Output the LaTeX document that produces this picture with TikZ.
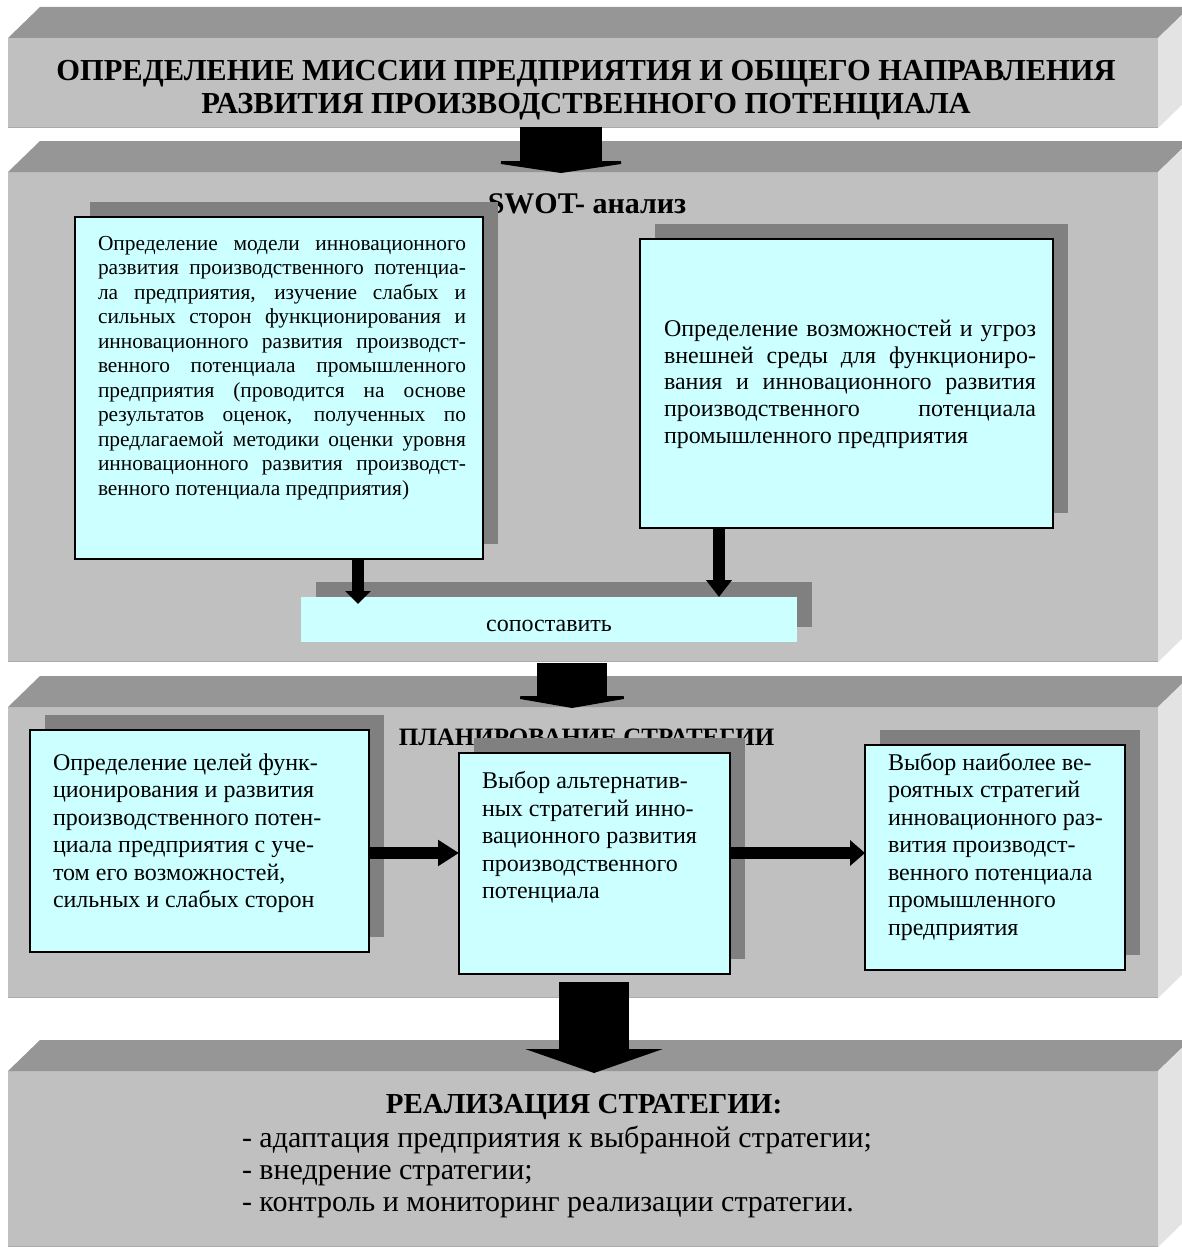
\documentclass[tikz,border=0pt]{standalone}
\usepackage{fontspec}
\setmainfont{Liberation Serif}
\usetikzlibrary{arrows.meta}
\definecolor{slabfront}{HTML}{C0C0C0}
\definecolor{slabtop}{HTML}{969696}
\definecolor{slabside}{HTML}{E3E3E3}
\definecolor{slabedge}{HTML}{ABABAB}
\definecolor{shadegray}{HTML}{808080}
\definecolor{boxcyan}{HTML}{CCFFFF}
\pgfdeclarelayer{slablayer}
\pgfdeclarelayer{shadelayer}
\pgfsetlayers{slablayer,shadelayer,main}
\newcommand\fs[2]{\fontsize{#1pt}{#2pt}\selectfont}
\newcommand\jl[1]{\hbox to\hsize{#1}}
\newcommand\rl[1]{\hbox{#1}}
\newcommand\textlines[2]{\vbox{\hsize=#1pt\hbox{}#2}}
\newcommand\slabfaces[1]{%
  \fill[slabtop] (#1.north west) -- ++(32,-31) -- ([shift={(32,-31)}]#1.north east) -- (#1.north east) -- cycle;
  \fill[slabside] (#1.north east) -- ++(32,-31) -- ([shift={(32,-31)}]#1.south east) -- (#1.south east) -- cycle;
  \draw[slabedge, line width=1.5pt] ([yshift=0.75pt]#1.south west) -- ([yshift=0.75pt]#1.south east);
}
\begin{document}
\begin{tikzpicture}[x=1pt,y=-1pt,
  slabface/.style={fill=slabfront, draw=none, inner sep=0pt, outer sep=0pt, anchor=north west},
  cbox/.style={draw=black, line width=1.4pt, fill=boxcyan, inner sep=0pt, outer sep=0pt, anchor=north west},
  txt/.style={inner sep=0pt, outer sep=0pt, anchor=north west},
  shadowbox/.style={fill=shadegray},
  smallarrow/.style={line width=12.5pt, -{Triangle[width=25pt,length=#1]}},
  title/.style={anchor=base, inner sep=0pt, font=\bfseries}
]
\useasboundingbox (0,0) rectangle (1181,1247);
\begin{pgfonlayer}{slablayer}
  \fill[white] (0,0) rectangle (1181,1247);
  \node[slabface, minimum width=1150pt, minimum height=90pt] (s1) at (8,38) {};
  \node[slabface, minimum width=1150pt, minimum height=490pt] (s2) at (8,172) {};
  \node[slabface, minimum width=1150pt, minimum height=291pt] (s3) at (8,707) {};
  \node[slabface, minimum width=1150pt, minimum height=176pt] (s4) at (8,1071) {};
  \slabfaces{s1}\slabfaces{s2}\slabfaces{s3}\slabfaces{s4}
  % big block arrows between the levels
  \draw[line width=82pt, -{Triangle[width=160pt,length=12pt]}] ([xshift=-22pt,yshift=1pt]s1.south) -- ([xshift=-22pt,yshift=-1pt]s2.north);
  \draw[line width=70pt, -{Triangle[width=138pt,length=12pt]}] ([xshift=-11pt,yshift=-1pt]s2.south) -- ([xshift=-11pt,yshift=-1pt]s3.north);
  \draw[line width=70pt, -{Triangle[width=137pt,length=24pt]}] ([xshift=11pt,yshift=16pt]s3.south) -- ([xshift=11pt,yshift=-2pt]s4.north);
  % titles
  \node[title, font=\fs{30.5}{32}\bfseries] (t1a) at (586,81) {ОПРЕДЕЛЕНИЕ МИССИИ ПРЕДПРИЯТИЯ И ОБЩЕГО НАПРАВЛЕНИЯ};
  \node[title, font=\fs{30.5}{32}\bfseries] (t1b) at (586,113) {РАЗВИТИЯ ПРОИЗВОДСТВЕННОГО ПОТЕНЦИАЛА};
  \node[title, font=\fs{30}{32}\bfseries] (t2) at (587,213) {SWOT- анализ};
  \node[title, font=\fs{25}{28}\bfseries] (t3) at (586.5,745) {ПЛАНИРОВАНИЕ СТРАТЕГИИ};
\end{pgfonlayer}

% boxes of the SWOT level
\node[cbox, minimum width=408pt, minimum height=342pt] (A) at (75,217) {};
\node[cbox, minimum width=413pt, minimum height=289pt] (B) at (640,239) {};
\node[fill=boxcyan, draw=none, inner sep=0pt, outer sep=0pt, anchor=north west, minimum width=496pt, minimum height=45pt] (S) at (301,597) {};
% boxes of the planning level
\node[cbox, minimum width=339pt, minimum height=222pt] (C) at (30,730) {};
\node[cbox, minimum width=271pt, minimum height=221pt] (D) at (459,753) {};
\node[cbox, minimum width=260pt, minimum height=225pt] (E) at (865,745) {};

\begin{pgfonlayer}{shadelayer}
  \foreach \b in {A,B,S,C,D,E}{
    \fill[shadowbox] ([shift={(15,-15)}]\b.south west) rectangle ([shift={(15,-15)}]\b.north east);
  }
\end{pgfonlayer}

% texts
\node[txt, font=\fs{21.4}{24.5}] (tA) at (98,225.5) {\textlines{368}{%
  \jl{Определение модели инновационного}%
  \jl{развития производственного потенциа-}%
  \jl{ла предприятия, изучение слабых и}%
  \jl{сильных сторон функционирования и}%
  \jl{инновационного развития производст-}%
  \jl{венного потенциала промышленного}%
  \jl{предприятия (проводится на основе}%
  \jl{результатов оценок, полученных по}%
  \jl{предлагаемой методики оценки уровня}%
  \jl{инновационного развития производст-}%
  \rl{венного потенциала предприятия)}}};
\node[txt, font=\fs{24}{26.8}] (tB) at (664,309.5) {\textlines{372}{%
  \jl{Определение возможностей и угроз}%
  \jl{внешней среды для функциониро-}%
  \jl{вания и инновационного развития}%
  \jl{производственного потенциала}%
  \rl{промышленного предприятия}}};
\node[anchor=base, inner sep=0pt, font=\fs{24}{27}] (tS) at (549,631) {сопоставить};
\node[txt, font=\fs{24}{27.5}] (tC) at (53,742.5) {\textlines{310}{%
  \rl{Определение целей функ-}%
  \rl{ционирования и развития}%
  \rl{производственного потен-}%
  \rl{циала предприятия с уче-}%
  \rl{том его возможностей,}%
  \rl{сильных и слабых сторон}}};
\node[txt, font=\fs{24}{27.5}] (tD) at (482,761) {\textlines{240}{%
  \rl{Выбор альтернатив-}%
  \rl{ных стратегий инно-}%
  \rl{вационного развития}%
  \rl{производственного}%
  \rl{потенциала}}};
\node[txt, font=\fs{24}{27.5}] (tE) at (888,742.5) {\textlines{230}{%
  \rl{Выбор наиболее ве-}%
  \rl{роятных стратегий}%
  \rl{инновационного раз-}%
  \rl{вития производст-}%
  \rl{венного потенциала}%
  \rl{промышленного}%
  \rl{предприятия}}};
\node[title, font=\fs{29}{31}\bfseries] (t4) at (584,1113) {РЕАЛИЗАЦИЯ СТРАТЕГИИ:};
\node[txt, font=\fs{30}{32}] (t4list) at (242,1115) {\textlines{800}{%
  \rl{- адаптация предприятия к выбранной стратегии;}%
  \rl{- внедрение стратегии;}%
  \rl{- контроль и мониторинг реализации стратегии.}}};

% connectors
\coordinate (sa1) at (358,604);
\coordinate (sa2) at (719,597);
\coordinate (hrow) at (0,853);
\draw[smallarrow=13pt] (A.south -| sa1) -- (sa1);
\draw[smallarrow=17pt] (B.south -| sa2) -- (S.north -| sa2);
\draw[smallarrow=21pt] (C.east |- hrow) -- (D.west |- hrow);
\draw[smallarrow=15pt] (D.east |- hrow) -- (E.west |- hrow);
\end{tikzpicture}
\end{document}
